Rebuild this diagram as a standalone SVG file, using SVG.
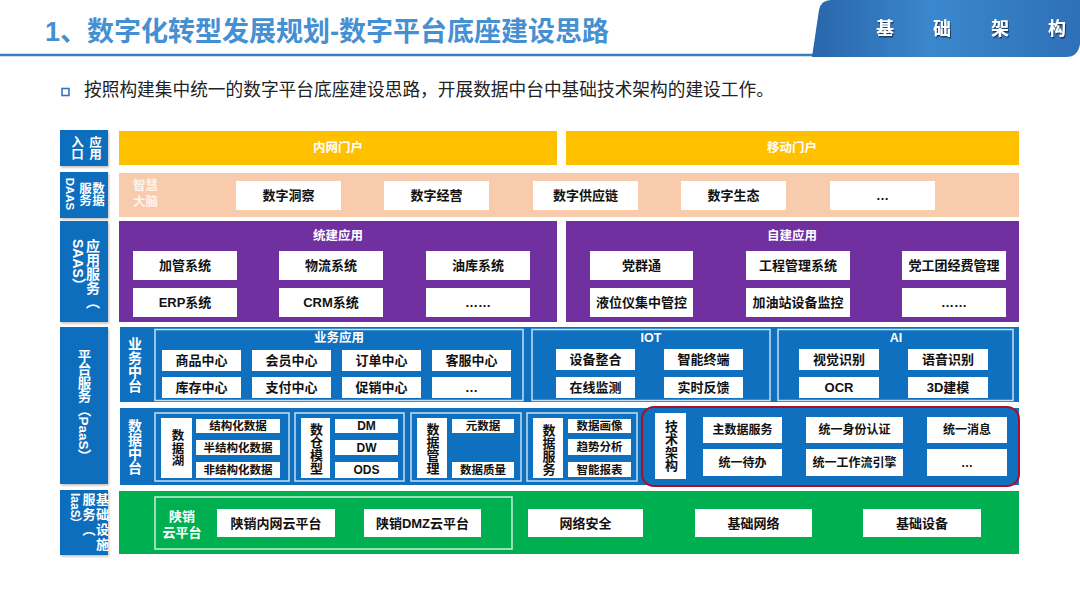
<svg xmlns="http://www.w3.org/2000/svg" width="1080" height="608" viewBox="0 0 1080 608">
<defs>
<linearGradient id="tabg" x1="0" y1="0" x2="1" y2="0">
<stop offset="0" stop-color="#2966ab"/>
<stop offset="0.45" stop-color="#3b87cd"/>
<stop offset="1" stop-color="#2e70b7"/>
</linearGradient>
<filter id="sh" x="-30%" y="-30%" width="160%" height="160%"><feDropShadow dx="1" dy="1.5" stdDeviation="0.7" flood-color="#0a2a50" flood-opacity="0.8"/></filter>
<filter id="bs" x="-10%" y="-10%" width="130%" height="130%"><feDropShadow dx="1" dy="1.5" stdDeviation="1" flood-color="#000" flood-opacity="0.25"/></filter>
</defs>
<style>
text{font-family:"Liberation Sans","Noto Sans CJK SC",sans-serif;font-weight:bold}
.c{text-anchor:middle;dominant-baseline:central}
.k{fill:#111;font-size:13px}
.s{font-size:12px}
.xs{font-size:11.5px}
.w{fill:#fff}
.vm{writing-mode:vertical-rl;text-anchor:middle}
.vs{writing-mode:vertical-rl;text-anchor:start}
.lb{fill:#0d6ebe}
.pn{fill:#0f70c0}
.wb{fill:#fff}
.bd{fill:none;stroke:#c5def3;stroke-width:1.5}
</style>
<rect width="1080" height="608" fill="#fff"/>

<g id="header">
<text x="45" y="41" font-size="27" fill="#4590d3">1、数字化转型发展规划-数字平台底座建设思路</text>
<line x1="0" y1="55" x2="815" y2="55" stroke="#3a7bbf" stroke-width="2.5"/>
<path d="M812 57 L819 10 Q821 0 831 0 L1080 0 L1080 44 Q1078 57 1066 57 Z" fill="url(#tabg)"/>
<g font-size="18" fill="#fff" filter="url(#sh)">
<text class="c" x="885" y="29" fill="#fff">基</text>
<text class="c" x="942" y="29" fill="#fff">础</text>
<text class="c" x="1000" y="29" fill="#fff">架</text>
<text class="c" x="1057" y="29" fill="#fff">构</text>
</g>
<rect x="62" y="88.5" width="7" height="7" fill="none" stroke="#2e75c6" stroke-width="1.6"/>
<text x="84" y="96" font-size="17.7" fill="#222" style="font-weight:normal">按照构建集中统一的数字平台底座建设思路，开展数据中台中基础技术架构的建设工作。</text>
</g>

<g id="labels">
<g id="lbl-entry"><rect class="lb" x="60" y="130" width="48" height="36" filter="url(#bs)"/>
<text class="vm w" x="94" y="148" font-size="12.5">应用</text>
<text class="vm w" x="76" y="148" font-size="12.5">入口</text></g>
<g id="lbl-daas"><rect class="lb" x="60" y="172" width="48" height="46" filter="url(#bs)"/>
<text class="vm w" x="97" y="194" font-size="12.5">数据</text>
<text class="vm w" x="84" y="194" font-size="12.5">服务</text>
<text class="vm w" x="70" y="194" font-size="11.5">DAAS</text></g>
<g id="lbl-saas"><rect class="lb" x="60" y="221" width="48" height="101" filter="url(#bs)"/>
<text class="vs w" x="92" y="239" font-size="14">应用服务（</text>
<text class="vs w" x="78" y="239" font-size="14">SAAS）</text></g>
<g id="lbl-paas"><rect class="lb" x="60" y="327" width="48" height="157" filter="url(#bs)"/>
<text class="vm w" x="83" y="406" font-size="13.5">平台服务（PaaS）</text></g>
<g id="lbl-iaas"><rect class="lb" x="60" y="490" width="48" height="65" filter="url(#bs)"/>
<text class="vs w" x="101.5" y="493" font-size="13" letter-spacing="2">基础设施</text>
<text class="vs w" x="88" y="493" font-size="13" letter-spacing="2">服务（</text>
<text class="vs w" x="74.5" y="493" font-size="12">IaaS）</text></g>
</g>

<g id="row-entry">
<g id="intranet"><rect x="119" y="131" width="438" height="34" fill="#ffc000"/><text class="c w" x="338" y="148" font-size="12.5">内网门户</text></g>
<g id="mobile"><rect x="566" y="131" width="453" height="34" fill="#ffc000"/><text class="c w" x="792" y="148" font-size="12.5">移动门户</text></g>
</g>

<g id="row-daas">
<rect x="119" y="173" width="900" height="44" fill="#f8cbad"/>
<text x="133" y="186" font-size="12.5" fill="#fff" fill-opacity="0.8" dominant-baseline="central">智慧</text>
<text x="133" y="202" font-size="12.5" fill="#fff" fill-opacity="0.8" dominant-baseline="central">大脑</text>
<g id="d1"><rect class="wb" x="236" y="181" width="105" height="29"/><text class="c k" x="288.5" y="195.5">数字洞察</text></g>
<g id="d2"><rect class="wb" x="384" y="181" width="105" height="29"/><text class="c k" x="436.5" y="195.5">数字经营</text></g>
<g id="d3"><rect class="wb" x="533" y="181" width="105" height="29"/><text class="c k" x="585.5" y="195.5">数字供应链</text></g>
<g id="d4"><rect class="wb" x="681" y="181" width="105" height="29"/><text class="c k" x="733.5" y="195.5">数字生态</text></g>
<g id="d5"><rect class="wb" x="830" y="181" width="105" height="29"/><text class="c k" x="882.5" y="195.5">…</text></g>
</g>

<g id="row-saas">
<g id="tongjian">
<rect x="119" y="221" width="438" height="101" fill="#7030a0"/>
<text class="c w" x="338" y="236" font-size="12.5">统建应用</text>
<g id="s1"><rect class="wb" x="133" y="251" width="104" height="29"/><text class="c k" x="185" y="265.5">加管系统</text></g>
<g id="s2"><rect class="wb" x="279" y="251" width="104" height="29"/><text class="c k" x="331" y="265.5">物流系统</text></g>
<g id="s3"><rect class="wb" x="426" y="251" width="104" height="29"/><text class="c k" x="478" y="265.5">油库系统</text></g>
<g id="s4"><rect class="wb" x="133" y="288" width="104" height="29"/><text class="c k" x="185" y="302.5">ERP系统</text></g>
<g id="s5"><rect class="wb" x="279" y="288" width="104" height="29"/><text class="c k" x="331" y="302.5">CRM系统</text></g>
<g id="s6"><rect class="wb" x="426" y="288" width="104" height="29"/><text class="c k" x="478" y="302.5">……</text></g>
</g>
<g id="zijian">
<rect x="566" y="221" width="453" height="101" fill="#7030a0"/>
<text class="c w" x="792" y="236" font-size="12.5">自建应用</text>
<g id="s7"><rect class="wb" x="590" y="251" width="103" height="29"/><text class="c k" x="641.5" y="265.5">党群通</text></g>
<g id="s8"><rect class="wb" x="746" y="251" width="104" height="29"/><text class="c k" x="798" y="265.5">工程管理系统</text></g>
<g id="s9"><rect class="wb" x="902" y="251" width="104" height="29"/><text class="c k" x="954" y="265.5">党工团经费管理</text></g>
<g id="s10"><rect class="wb" x="590" y="288" width="103" height="29"/><text class="c k" x="641.5" y="302.5">液位仪集中管控</text></g>
<g id="s11"><rect class="wb" x="746" y="288" width="104" height="29"/><text class="c k" x="798" y="302.5">加油站设备监控</text></g>
<g id="s12"><rect class="wb" x="902" y="288" width="104" height="29"/><text class="c k" x="954" y="302.5">……</text></g>
</g>
</g>

<g id="row-business">
<rect class="pn" x="120" y="327" width="899" height="75"/>
<text class="vm w" x="134" y="365" font-size="14">业务中台</text>
<g id="biz">
<rect class="bd" x="155" y="329.5" width="368" height="71"/>
<text class="c w" x="339" y="338" font-size="12.5">业务应用</text>
<g id="b1"><rect class="wb" x="162" y="350" width="79" height="21"/><text class="c k" x="201.5" y="360.5">商品中心</text></g>
<g id="b2"><rect class="wb" x="252" y="350" width="79" height="21"/><text class="c k" x="291.5" y="360.5">会员中心</text></g>
<g id="b3"><rect class="wb" x="342" y="350" width="79" height="21"/><text class="c k" x="381.5" y="360.5">订单中心</text></g>
<g id="b4"><rect class="wb" x="432" y="350" width="79" height="21"/><text class="c k" x="471.5" y="360.5">客服中心</text></g>
<g id="b5"><rect class="wb" x="162" y="377" width="79" height="21"/><text class="c k" x="201.5" y="387.5">库存中心</text></g>
<g id="b6"><rect class="wb" x="252" y="377" width="79" height="21"/><text class="c k" x="291.5" y="387.5">支付中心</text></g>
<g id="b7"><rect class="wb" x="342" y="377" width="79" height="21"/><text class="c k" x="381.5" y="387.5">促销中心</text></g>
<g id="b8"><rect class="wb" x="432" y="377" width="79" height="21"/><text class="c k" x="471.5" y="387.5">…</text></g>
</g>
<g id="iot">
<rect class="bd" x="532" y="329.5" width="238" height="71"/>
<text class="c w" x="651" y="338" font-size="12.5">IOT</text>
<g id="i1"><rect class="wb" x="556" y="349" width="79" height="21"/><text class="c k" x="595.5" y="359.5">设备整合</text></g>
<g id="i2"><rect class="wb" x="664" y="349" width="79" height="21"/><text class="c k" x="703.5" y="359.5">智能终端</text></g>
<g id="i3"><rect class="wb" x="556" y="377" width="79" height="21"/><text class="c k" x="595.5" y="387.5">在线监测</text></g>
<g id="i4"><rect class="wb" x="664" y="377" width="79" height="21"/><text class="c k" x="703.5" y="387.5">实时反馈</text></g>
</g>
<g id="ai">
<rect class="bd" x="778" y="329.5" width="235" height="71"/>
<text class="c w" x="896" y="338" font-size="12.5">AI</text>
<g id="a1"><rect class="wb" x="799" y="349" width="80" height="21"/><text class="c k" x="839" y="359.5">视觉识别</text></g>
<g id="a2"><rect class="wb" x="908" y="349" width="80" height="21"/><text class="c k" x="948" y="359.5">语音识别</text></g>
<g id="a3"><rect class="wb" x="799" y="377" width="80" height="21"/><text class="c k" x="839" y="387.5">OCR</text></g>
<g id="a4"><rect class="wb" x="908" y="377" width="80" height="21"/><text class="c k" x="948" y="387.5">3D建模</text></g>
</g>
</g>

<g id="row-data">
<rect class="pn" x="120" y="408" width="899" height="77"/>
<text class="vm w" x="134" y="447" font-size="14">数据中台</text>
<g id="lake">
<rect class="bd" x="155" y="413" width="134" height="68"/>
<rect class="wb" x="161" y="418" width="31" height="60"/>
<text class="vm" x="176.5" y="448" font-size="12.5" fill="#111">数据湖</text>
<g id="l1"><rect class="wb" x="196" y="419" width="84" height="14"/><text class="c k xs" x="238" y="426">结构化数据</text></g>
<g id="l2"><rect class="wb" x="196" y="440" width="84" height="15"/><text class="c k xs" x="238" y="447.5">半结构化数据</text></g>
<g id="l3"><rect class="wb" x="196" y="462" width="84" height="16"/><text class="c k xs" x="238" y="470">非结构化数据</text></g>
</g>
<g id="dw">
<rect class="bd" x="295" y="413" width="109" height="68"/>
<rect class="wb" x="301" y="418" width="29" height="60"/>
<text class="vm" x="315.5" y="449" font-size="13" fill="#111">数仓模型</text>
<g id="m1"><rect class="wb" x="335" y="419" width="63" height="14"/><text class="c k s" x="366.5" y="426">DM</text></g>
<g id="m2"><rect class="wb" x="335" y="440" width="63" height="15"/><text class="c k s" x="366.5" y="447.5">DW</text></g>
<g id="m3"><rect class="wb" x="335" y="462" width="63" height="16"/><text class="c k s" x="366.5" y="470">ODS</text></g>
</g>
<g id="mgmt">
<rect class="bd" x="411" y="413" width="110" height="68"/>
<rect class="wb" x="417" y="418" width="30" height="60"/>
<text class="vm" x="432" y="449" font-size="13" fill="#111">数据管理</text>
<g id="g1"><rect class="wb" x="452" y="419" width="62" height="14"/><text class="c k xs" x="483" y="426">元数据</text></g>
<g id="g2"><rect class="wb" x="452" y="462" width="62" height="16"/><text class="c k xs" x="483" y="470">数据质量</text></g>
</g>
<g id="svc">
<rect class="bd" x="527" y="413" width="110" height="68"/>
<rect class="wb" x="533" y="418" width="30" height="60"/>
<text class="vm" x="548" y="449.5" font-size="13" fill="#111">数据服务</text>
<g id="v1"><rect class="wb" x="568" y="419" width="63" height="14"/><text class="c k xs" x="599.5" y="426">数据画像</text></g>
<g id="v2"><rect class="wb" x="568" y="439" width="63" height="16"/><text class="c k xs" x="599.5" y="447">趋势分析</text></g>
<g id="v3"><rect class="wb" x="568" y="462" width="63" height="15"/><text class="c k xs" x="599.5" y="469.5">智能报表</text></g>
</g>
<g id="tech">
<rect x="642" y="407" width="377" height="79" rx="12" fill="none" stroke="#a8102a" stroke-width="2"/>
<rect class="wb" x="655" y="413" width="31" height="66"/>
<text class="vm" x="670.5" y="446" font-size="13" fill="#111">技术架构</text>
<g id="t1"><rect class="wb" x="703" y="417" width="79" height="26"/><text class="c k s" x="742.5" y="430">主数据服务</text></g>
<g id="t2"><rect class="wb" x="806" y="417" width="97" height="26"/><text class="c k s" x="854.5" y="430">统一身份认证</text></g>
<g id="t3"><rect class="wb" x="927" y="417" width="80" height="26"/><text class="c k s" x="967" y="430">统一消息</text></g>
<g id="t4"><rect class="wb" x="703" y="449" width="79" height="27"/><text class="c k s" x="742.5" y="462.5">统一待办</text></g>
<g id="t5"><rect class="wb" x="806" y="449" width="97" height="27"/><text class="c k s" x="854.5" y="462.5">统一工作流引擎</text></g>
<g id="t6"><rect class="wb" x="927" y="449" width="80" height="27"/><text class="c k s" x="967" y="462.5">…</text></g>
</g>
</g>

<g id="row-iaas">
<rect x="119" y="491" width="900" height="63" fill="#00b050"/>
<g id="cloud">
<rect x="155" y="497" width="357" height="52" fill="none" stroke="#c8f0d8" stroke-width="1.5"/>
<text class="c w" x="182" y="516" font-size="13">陕销</text>
<text class="c w" x="182" y="532" font-size="13">云平台</text>
<g id="c1"><rect class="wb" x="217" y="509" width="118" height="28"/><text class="c k" x="276" y="523">陕销内网云平台</text></g>
<g id="c2"><rect class="wb" x="364" y="509" width="117" height="28"/><text class="c k" x="422.5" y="523">陕销DMZ云平台</text></g>
</g>
<g id="n1"><rect class="wb" x="528" y="509" width="115" height="28"/><text class="c k" x="585.5" y="523">网络安全</text></g>
<g id="n2"><rect class="wb" x="695" y="509" width="117" height="28"/><text class="c k" x="753.5" y="523">基础网络</text></g>
<g id="n3"><rect class="wb" x="863" y="509" width="118" height="28"/><text class="c k" x="922" y="523">基础设备</text></g>
</g>

<g id="connectors"></g>
</svg>
